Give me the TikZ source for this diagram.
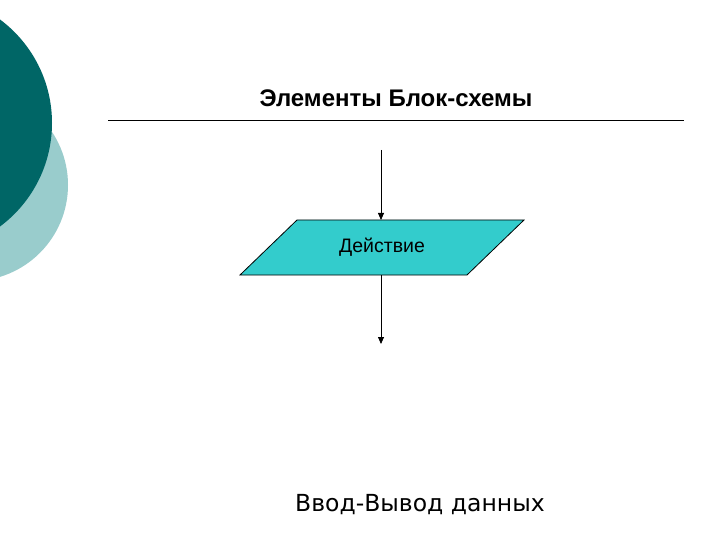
\documentclass[tikz,border=0pt]{standalone}
\usepackage{fontspec}
\setmainfont{Liberation Sans}
\newfontfamily\bodyfont{DejaVu Sans}
\usetikzlibrary{arrows.meta}
\definecolor{darkteal}{RGB}{0,102,102}
\definecolor{lightteal}{RGB}{153,204,204}
\definecolor{turq}{RGB}{51,204,204}
\tikzset{flow/.style={draw=black, line width=0.8pt, -{Triangle[length=7pt,width=6pt]}}}
\begin{document}
\begin{tikzpicture}[x=1pt,y=-1pt]
\useasboundingbox (0,0) rectangle (720,540);
\fill[white] (0,0) rectangle (720,540);
\begin{scope}
\clip (0,0) rectangle (720,540);
\fill[lightteal] (-28,185) circle (96);
\fill[darkteal] (-77,123) circle (129);
\end{scope}
\node[font=\bfseries\fontsize{24}{28}\selectfont, anchor=center] (title) at (396,98) {Элементы Блок-схемы};
\draw[line width=0.8pt] (108,120) coordinate (l1) -- (684,120) coordinate (l2);
\coordinate (top) at (381,150);
\coordinate (bot) at (381,344);
\path[fill=turq, draw=black, line width=0.8pt] (297,220) -- (524,220) -- (467,275) -- (240,275) -- cycle;
\node[font=\fontsize{19.5}{22}\selectfont] (act) at (382,247) {Действие};
\coordinate (actT) at (381,220);
\coordinate (actB) at (381,275);
\draw[flow] (top) -- (actT);
\draw[flow] (actB) -- (bot);
\node[font=\bodyfont\fontsize{23.5}{28}\selectfont] (io) at (420,505) {Ввод-Вывод данных};
\end{tikzpicture}
\end{document}
